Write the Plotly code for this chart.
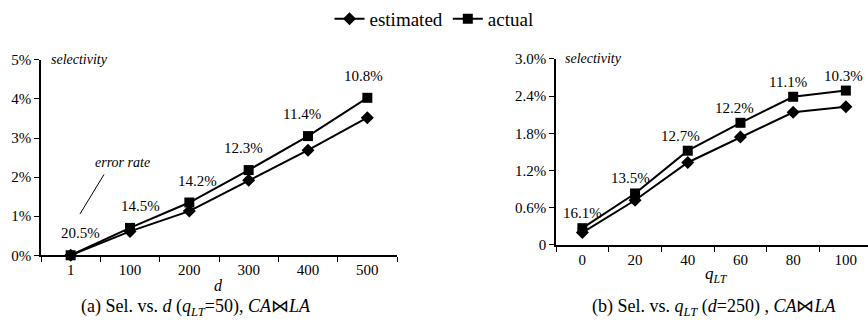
import plotly.graph_objects as go

# ---- data ----
d_cats = ["1", "100", "200", "300", "400", "500"]
d_estimated = [0.0, 0.61, 1.13, 1.92, 2.69, 3.52]
d_actual = [0.0, 0.70, 1.35, 2.18, 3.05, 4.03]
d_error = ["20.5%", "14.5%", "14.2%", "12.3%", "11.4%", "10.8%"]

q_cats = ["0", "20", "40", "60", "80", "100"]
q_estimated = [0.20, 0.72, 1.33, 1.74, 2.14, 2.23]
q_actual = [0.27, 0.83, 1.52, 1.97, 2.39, 2.49]
q_error = ["16.1%", "13.5%", "12.7%", "12.2%", "11.1%", "10.3%"]

left_yticks = [0, 1, 2, 3, 4, 5]
left_yticktext = ["0%", "1%", "2%", "3%", "4%", "5%"]
right_yticks = [0, 0.6, 1.2, 1.8, 2.4, 3.0]
right_yticktext = ["0", "0.6%", "1.2%", "1.8%", "2.4%", "3.0%"]

FONT = "Times New Roman, Liberation Serif, DejaVu Serif, Noto Serif, serif"
W, H = 868, 329

fig = go.Figure()

def add_series(xcats, est, act, xa, ya, show):
    fig.add_trace(go.Scatter(x=xcats, y=est, mode="lines+markers", name="estimated",
                             line=dict(color="black", width=2),
                             marker=dict(symbol="diamond", size=10, color="black"),
                             xaxis=xa, yaxis=ya, showlegend=show, cliponaxis=False))
    fig.add_trace(go.Scatter(x=xcats, y=act, mode="lines+markers", name="actual",
                             line=dict(color="black", width=2),
                             marker=dict(symbol="square", size=10, color="black"),
                             xaxis=xa, yaxis=ya, showlegend=show, cliponaxis=False))

add_series(d_cats, d_estimated, d_actual, "x", "y", True)
add_series(q_cats, q_estimated, q_actual, "x2", "y2", False)

# error-rate labels (category index used as annotation x)
left_xshift = [10, 10, 8, -5, -6, -4]
for i, (v, t) in enumerate(zip(d_actual, d_error)):
    fig.add_annotation(x=i, y=v, text=t, xref="x", yref="y", showarrow=False,
                       yshift=22, xshift=left_xshift[i],
                       font=dict(family=FONT, size=15, color="black"))
right_xshift = [0, -5, -7, -6, -5, -2]
for i, (v, t) in enumerate(zip(q_actual, q_error)):
    fig.add_annotation(x=i, y=v, text=t, xref="x2", yref="y2", showarrow=False,
                       yshift=15, xshift=right_xshift[i],
                       font=dict(family=FONT, size=15, color="black"))

def px(xp):
    return xp / W

def py(yp):
    return 1 - yp / H

def note(x, y, text, size, xanchor="center"):
    fig.add_annotation(x=px(x), y=py(y), xref="paper", yref="paper", showarrow=False,
                       xanchor=xanchor, yanchor="middle", text=text,
                       font=dict(family=FONT, size=size, color="black"))

# "error rate" note and pointer line
note(122, 160, "<i>error rate</i>", 14)
fig.add_shape(type="line", xref="paper", yref="paper", x0=px(104), y0=py(173),
              x1=px(80), y1=py(215), line=dict(color="black", width=1))

# "selectivity" labels
note(49, 51, "<i>selectivity</i>", 14, "left")
note(563, 49, "<i>selectivity</i>", 14, "left")

# axis titles
note(218, 291, "<i>d</i>", 16)
note(716, 280, "<i>q</i><sub><i>LT</i></sub>", 17)

# captions
note(196, 315, "(a) Sel. vs. <i>d</i> (<i>q</i><sub><i>LT</i></sub>=50), <i>CA</i>⋈<i>LA</i>", 18)
note(714, 315, "(b) Sel. vs. <i>q</i><sub><i>LT</i></sub> (<i>d</i>=250) , <i>CA</i>⋈<i>LA</i>", 18)

axis_common = dict(showgrid=False, zeroline=False, showline=True, linecolor="black",
                   linewidth=1.5, ticks="outside", tickcolor="black", ticklen=5,
                   tickfont=dict(family=FONT, size=15, color="black"))

fig.update_layout(
    width=W, height=H, margin=dict(l=0, r=0, t=0, b=0),
    plot_bgcolor="white", paper_bgcolor="white",
    font=dict(family=FONT, color="black"),
    showlegend=True,
    legend=dict(orientation="h", x=0.5, xanchor="center", y=1.04, yanchor="top",
                font=dict(family=FONT, size=19, color="black"),
                bgcolor="rgba(0,0,0,0)"),
    xaxis=dict(domain=[px(41), px(397)], anchor="y", type="category",
               range=[-0.5, 5.5], tickson="boundaries", **axis_common),
    yaxis=dict(domain=[py(259), py(51)], anchor="x", range=[0, 5],
               tickvals=left_yticks, ticktext=left_yticktext, **axis_common),
    xaxis2=dict(domain=[px(556), 1.0], anchor="y2", type="category",
                range=[-0.5, 5.42], tickson="boundaries", **axis_common),
    yaxis2=dict(domain=[py(248), py(50)], anchor="x2", range=[0, 3.0],
                tickvals=right_yticks, ticktext=right_yticktext, **axis_common),
)

fig.write_html("out.html")
